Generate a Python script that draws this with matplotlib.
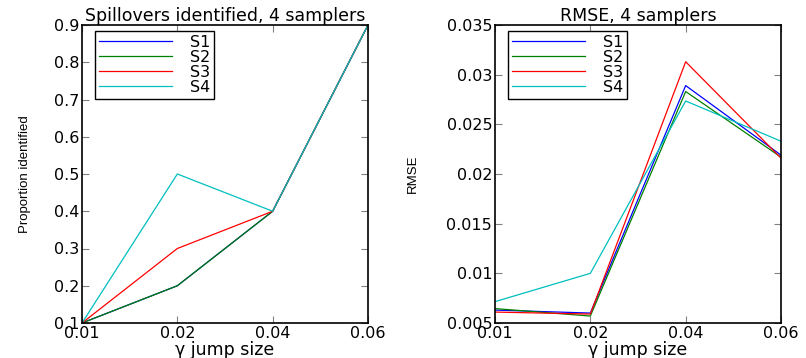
import matplotlib
matplotlib.use("Agg")
import matplotlib.pyplot as plt

gamma_labels = ["0.01", "0.02", "0.04", "0.06"]
series_names = ["S1", "S2", "S3", "S4"]
series_colors = ["#0000ff", "#008000", "#ff0000", "#00bfbf"]

prop_s1 = [0.1, 0.2, 0.4, 0.9]
prop_s2 = [0.1, 0.2, 0.4, 0.9]
prop_s3 = [0.1, 0.3, 0.4, 0.9]
prop_s4 = [0.1, 0.5, 0.4, 0.9]

rmse_s1 = [0.0063, 0.0060, 0.0289, 0.0219]
rmse_s2 = [0.00645, 0.0057, 0.0283, 0.0217]
rmse_s3 = [0.0061, 0.0059, 0.0313, 0.0216]
rmse_s4 = [0.00715, 0.0100, 0.02735, 0.0233]

prop_yticks = [0.1, 0.2, 0.3, 0.4, 0.5, 0.6, 0.7, 0.8, 0.9]
rmse_yticks = [0.005, 0.01, 0.015, 0.02, 0.025, 0.03, 0.035]
rmse_yticklabels = ["0.005", "0.01", "0.015", "0.02", "0.025", "0.03", "0.035"]

plt.rcParams["font.family"] = ["DejaVu Sans"]
fig = plt.figure(figsize=(8.06, 3.58), dpi=100)
W, H = 806, 358

def make_axes(x0, x1, y0, y1):
    return fig.add_axes([x0 / W, 1 - y1 / H, (x1 - x0) / W, (y1 - y0) / H])

ax1 = make_axes(82, 368, 25, 323)
ax2 = make_axes(495, 781, 25, 323)

xs = list(range(len(gamma_labels)))
narrow = ["Liberation Sans Narrow", "Liberation Sans"]

def style(ax, yticks, ylabels, ylim):
    ax.set_xlim(xs[0], xs[-1])
    ax.set_ylim(*ylim)
    ax.set_xticks(xs)
    ax.set_xticklabels(gamma_labels)
    ax.set_yticks(yticks)
    ax.set_yticklabels(ylabels)
    ax.tick_params(direction="in", length=5, width=0.8, color="#808080",
                   top=True, right=True, labelsize=11.5, pad=2)
    for s in ax.spines.values():
        s.set_linewidth(1.2)
        s.set_color("black")
    ax.set_xlabel("\u03b3 jump size", fontsize=12.5, labelpad=0)

for ys, c, n in zip([prop_s1, prop_s2, prop_s3, prop_s4], series_colors, series_names):
    ax1.plot(xs, ys, color=c, lw=0.9, label=n)
style(ax1, prop_yticks, [f"{v:.1f}" for v in prop_yticks], (0.1, 0.9))
ax1.set_title("Spillovers identified, 4 samplers", fontsize=12.5, pad=3)
ax1.set_ylabel("Proportion identified", fontsize=9.5, family=narrow)
ax1.yaxis.set_label_coords(-0.18, 0.5)

for ys, c, n in zip([rmse_s1, rmse_s2, rmse_s3, rmse_s4], series_colors, series_names):
    ax2.plot(xs, ys, color=c, lw=0.9, label=n)
style(ax2, rmse_yticks, rmse_yticklabels, (0.005, 0.035))
ax2.set_title("RMSE, 4 samplers", fontsize=12.5, pad=3)
ax2.set_ylabel("RMSE", fontsize=9.5, family=narrow)
ax2.yaxis.set_label_coords(-0.267, 0.5)

for ax in (ax1, ax2):
    leg = ax.legend(loc="upper left", bbox_to_anchor=(0.045, 0.98), fontsize=11.5,
                    handlelength=4.6, handletextpad=1.1, labelspacing=0.0,
                    borderpad=0.25, fancybox=False, framealpha=1,
                    edgecolor="black", borderaxespad=0)
    leg.get_frame().set_linewidth(1.0)

fig.savefig("out.png", dpi=100)
